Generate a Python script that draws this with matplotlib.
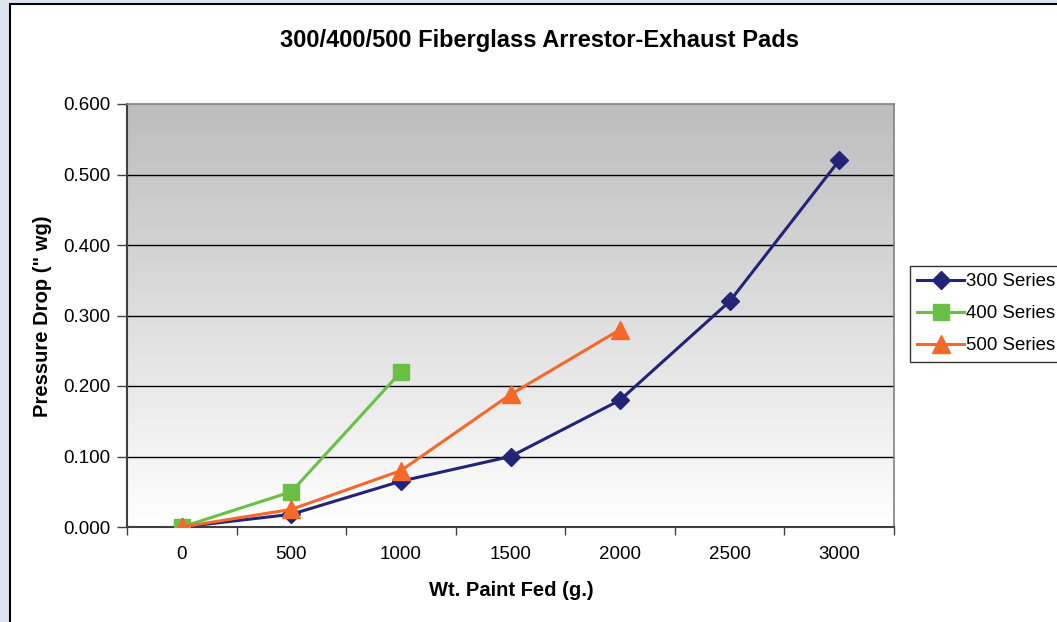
import matplotlib
matplotlib.use("Agg")
import matplotlib.pyplot as plt
import numpy as np
from matplotlib.patches import Rectangle
from matplotlib.colors import LinearSegmentedColormap

plt.rcParams['font.family'] = ['Liberation Sans', 'DejaVu Sans']

categories = ["0", "500", "1000", "1500", "2000", "2500", "3000"]
s300 = [0.000, 0.018, 0.065, 0.100, 0.180, 0.320, 0.520]
s400 = [0.000, 0.050, 0.220]
s500 = [0.000, 0.025, 0.080, 0.188, 0.280]
yticks = [0.0, 0.1, 0.2, 0.3, 0.4, 0.5, 0.6]

W, H = 1057, 622
fig = plt.figure(figsize=(W/100, H/100), dpi=100)
fig.patch.set_facecolor('#dde4ef')
fig.patches.append(Rectangle((10/W, -0.1), 1.2, 1 - 4/H + 0.1, transform=fig.transFigure,
                             facecolor='white', edgecolor='black', linewidth=1.5, zorder=-5))

ax = fig.add_axes([127/W, 1 - 527/H, (894-127)/W, (527-104)/H])
ax.set_zorder(2)
ax.set_xlim(-0.5, len(categories) - 0.5)
ax.set_ylim(0, 0.6)

# gradient background
grad = np.linspace(0, 1, 256).reshape(-1, 1)
cmap = LinearSegmentedColormap.from_list('g', ['#ffffff', '#bdbdbd'])
ax.imshow(grad, extent=[-0.5, len(categories) - 0.5, 0, 0.6], origin='lower',
          aspect='auto', cmap=cmap, zorder=0)

for y in yticks[1:-1]:
    ax.axhline(y, color='black', linewidth=1, zorder=1)

x = np.arange(len(categories))
ax.plot(x[:len(s300)], s300, color='#232377', linewidth=2.2, marker='D', markersize=9,
        label='300 Series', zorder=3)
ax.plot(x[:len(s400)], s400, color='#6abf45', linewidth=2.2, marker='s', markersize=11,
        label='400 Series', zorder=4)
ax.plot(x[:len(s500)], s500, color='#f4682a', linewidth=2.2, marker='^', markersize=12.5,
        label='500 Series', zorder=5)

ax.set_xticks(x)
ax.set_xticklabels(categories)
ax.set_xticks(np.arange(-0.5, len(categories), 1), minor=True)
ax.tick_params(axis='x', which='major', length=0, pad=14, labelsize=13.5)
ax.tick_params(axis='x', which='minor', length=6, width=1, color='#404040', direction='out')
ax.set_yticks(yticks)
ax.set_yticklabels([f"{v:.3f}" for v in yticks])
ax.tick_params(axis='y', length=7, width=1, color='#404040', pad=5, labelsize=13.5)

for s in ['top', 'right']:
    ax.spines[s].set_color('#808080')
    ax.spines[s].set_linewidth(1.2)
for s in ['left', 'bottom']:
    ax.spines[s].set_color('#404040')
    ax.spines[s].set_linewidth(1.5)

fig.text(540/W, 1 - 40/H, '300/400/500 Fiberglass Arrestor-Exhaust Pads', ha='center', va='center',
         fontsize=17, fontweight='bold')
fig.text(511/W, 1 - 590/H, 'Wt. Paint Fed (g.)', ha='center', va='center', fontsize=14.5, fontweight='bold')
fig.text(43/W, 1 - 316/H, 'Pressure Drop (" wg)', ha='center', va='center', rotation=90,
         fontsize=14.5, fontweight='bold')

leg = fig.legend(loc='upper left', bbox_to_anchor=(910/W, 1 - 266/H), frameon=True, fancybox=False,
                 fontsize=13.4, handlelength=2.5, handletextpad=0.1, borderpad=0.4, labelspacing=0.8,
                 borderaxespad=0)
leg.get_frame().set_edgecolor('black')
leg.get_frame().set_linewidth(1)

fig.savefig('out.png', dpi=100, facecolor=fig.get_facecolor())
